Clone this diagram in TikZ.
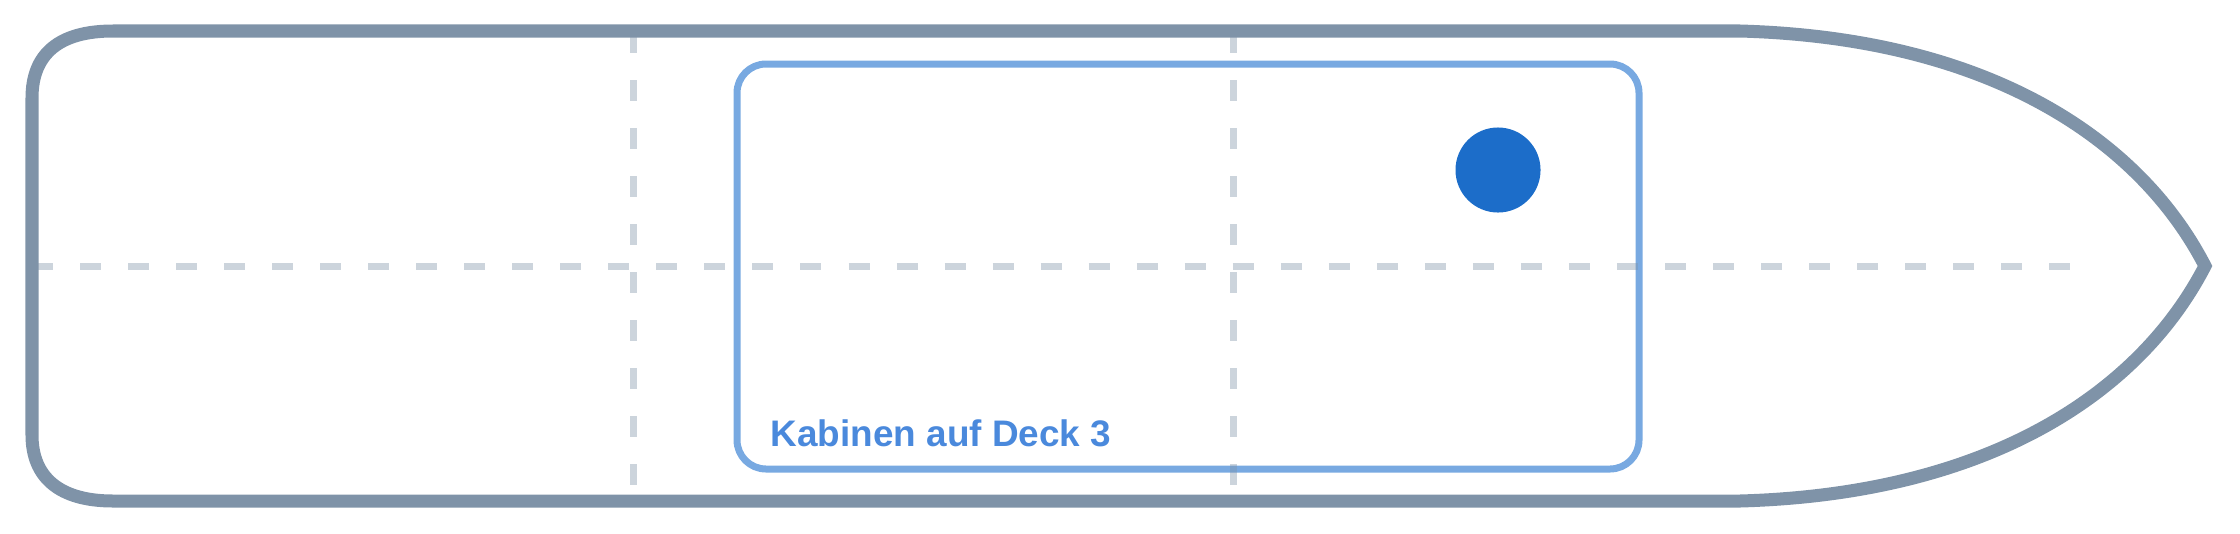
\documentclass[tikz,border=0pt]{standalone}
\usepackage{fontspec}
\setmainfont{Liberation Sans}
\usetikzlibrary{calc}
\definecolor{hullgray}{HTML}{7F93A8}
\definecolor{cabinblue}{HTML}{78A9E1}
\definecolor{labelblue}{HTML}{4A89DC}
\definecolor{markblue}{HTML}{1C6DC9}
\tikzset{
	hull/.style={draw=hullgray, line width=0.13cm, line join=miter},
	gridline/.style={draw=hullgray, draw opacity=0.4, line width=0.07cm, dash pattern=on 0.21cm off 0.27cm},
	cabin/.style={draw=cabinblue, line width=0.07cm, rounded corners=0.29cm},
	decklabel/.style={text=labelblue, font=\fontsize{10.5pt}{12pt}\selectfont\bfseries, inner sep=0pt, anchor=base west},
	marker/.style={circle, fill=markblue, inner sep=0pt, minimum size=0.85cm}
}

\begin{document}
\begin{tikzpicture}[x=0.01cm, y=-0.01cm]
			%%%%% START %%%%%
			\useasboundingbox (0, 0) rectangle (2240, 533);
			
			\draw[cabin] (737, 64) rectangle (1639, 469);
			
			\draw[gridline] (32, 266) -- (2080, 266);
			\draw[gridline] (633, 32) -- (633, 501);
			\draw[gridline] (1233, 32) -- (1233, 501);
			
			\draw[hull] (113, 31) -- (1740, 31)
				.. controls (1990, 38) and (2140, 140) .. (2205, 266)
				.. controls (2140, 392) and (1990, 494) .. (1740, 501)
				-- (113, 501) .. controls (59, 501) and (32, 477) .. (32, 435)
				-- (32, 98) .. controls (32, 54) and (59, 31) .. (113, 31) -- cycle;
			
			\node[marker] (spot) at (1498, 170) {};
			\node[decklabel] (deck) at (770, 446) {Kabinen auf Deck 3};
			%%%%% END %%%%%
\end{tikzpicture}
\end{document}
